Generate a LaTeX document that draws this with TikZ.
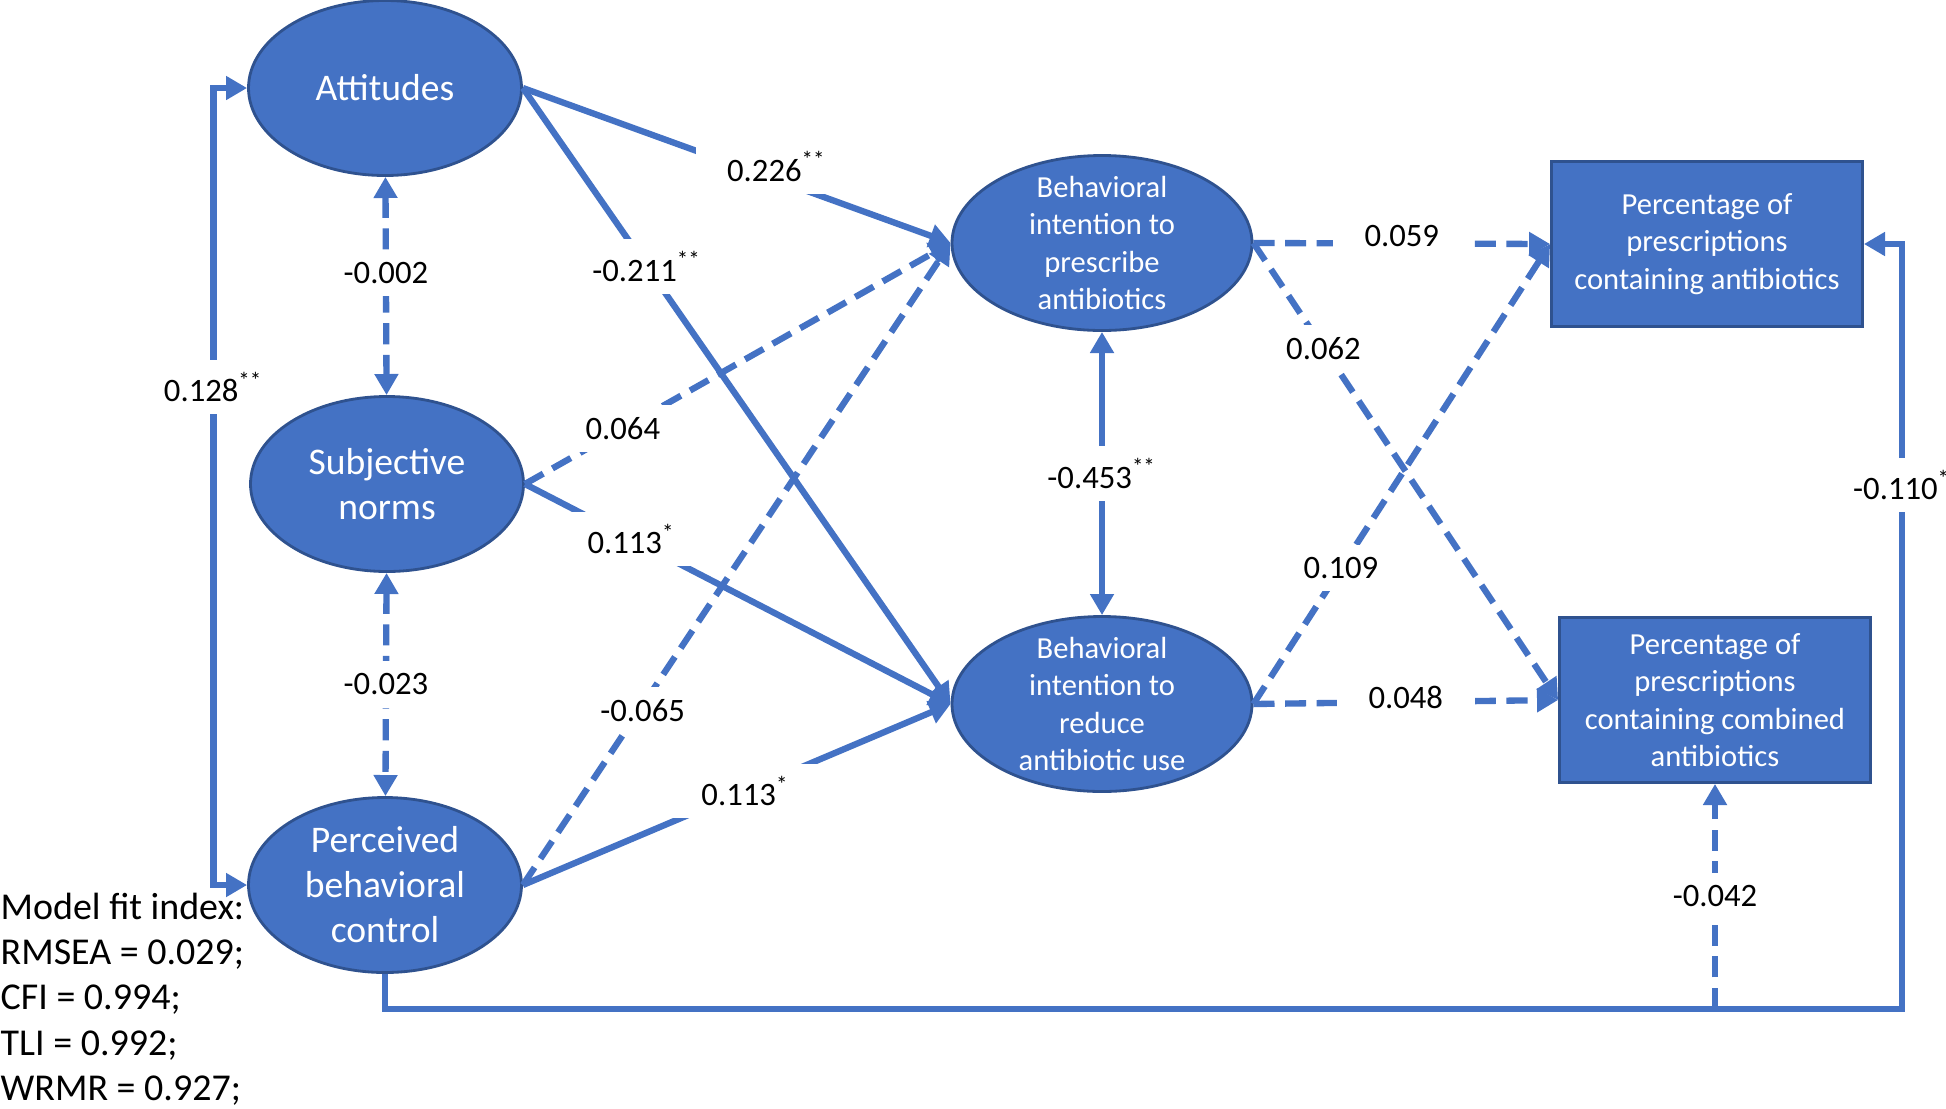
\documentclass[tikz,border=0pt]{standalone}
\usepackage{fontspec}
\setmainfont{Carlito}
\usepackage{tikz}
\usetikzlibrary{arrows.meta,shapes.geometric,calc}

\definecolor{semblue}{RGB}{68,114,196}
\definecolor{semedge}{RGB}{47,82,143}

\begin{document}
\begin{tikzpicture}[
    >={Triangle[length=6pt,width=6.5pt]},
    construct/.style={ellipse, draw=semedge, line width=0.8pt, fill=semblue, text=white, align=center, inner sep=-5pt, minimum width=2.73cm, minimum height=1.75cm, font=\fontsize{10.7}{12.8}\selectfont},
    intention/.style={construct, minimum width=3.0cm, font=\fontsize{8.7}{10.6}\selectfont},
    outcome/.style={rectangle, draw=semedge, line width=0.8pt, fill=semblue, text=white, align=center, minimum width=3.11cm, minimum height=1.65cm, font=\fontsize{8.7}{10.6}\selectfont},
    sig/.style={draw=semblue, line width=1.8pt},
    nonsig/.style={sig, dash pattern=on 6pt off 3pt},
    coef/.style={fill=white, inner xsep=9pt, inner ysep=3.5pt, font=\fontsize{9.3}{11}\selectfont}
]
    \useasboundingbox (0,0) rectangle (19.46,-11.08);

    % Predictors
    \node[construct] (att) at (3.85,-0.88) {Attitudes};
    \node[construct] (sn) at (3.87,-4.84) {Subjective\\norms};
    \node[construct] (pbc) at (3.85,-8.85) {Perceived\\behavioral\\control};

    % Intentions
    \node[intention] (bip) at (11.02,-2.43) {Behavioral\\intention to\\prescribe\\antibiotics};
    \node[intention] (bir) at (11.02,-7.04) {Behavioral\\intention to\\reduce\\antibiotic use};

    % Prescribing outcomes
    \node[outcome] (pct) at (17.07,-2.44) {Percentage of\\prescriptions\\containing antibiotics};
    \node[outcome] (pcc) at (17.15,-7.00) {Percentage of\\prescriptions\\containing combined\\antibiotics};

    % Corners of the elbow paths
    \coordinate (lft) at (2.135,0);
    \coordinate (rgt) at (19.02,0);
    \coordinate (bot) at (0,-10.09);

    % Correlations
    \draw[sig, <->] (att.west) -- (att.west -| lft) -- node[coef, pos=0.375]{0.128\textsuperscript{**}} (pbc.west -| lft) -- (pbc.west);
    \draw[nonsig, <->] (att) -- node[coef, pos=0.44]{-0.002} (sn);
    \draw[nonsig, <->] (sn) -- node[coef]{-0.023} (pbc);
    \draw[sig, <->] (bip) -- node[coef]{-0.453\textsuperscript{**}} (bir);

    % Paths to the intentions
    \draw[sig, ->] (att.east) -- node[coef, pos=0.57, xshift=0.1cm, yshift=0.1cm]{0.226\textsuperscript{**}} (bip.west);
    \draw[sig, ->] (att.east) -- node[coef, pos=0.29]{-0.211\textsuperscript{**}} (bir.west);
    \draw[nonsig, ->] (sn.east) -- node[coef, pos=0.23]{0.064} (bip.west);
    \draw[sig, ->] (sn.east) -- node[coef, pos=0.25]{0.113\textsuperscript{*}} (bir.west);
    \draw[nonsig, ->] (pbc.east) -- node[coef, pos=0.28, yshift=-0.05cm]{-0.065} (bip.west);
    \draw[sig, ->] (pbc.east) -- node[coef, pos=0.52]{0.113\textsuperscript{*}} (bir.west);

    % Paths to the prescribing outcomes
    \draw[nonsig, ->] (bip.east) -- node[coef, yshift=0.07cm]{0.059} (pct.west);
    \draw[nonsig, ->] (bip.east) -- node[coef, pos=0.23]{0.062} (pcc.west);
    \draw[nonsig, ->] (bir.east) -- node[coef, pos=0.295]{0.109} (pct.west);
    \draw[nonsig, ->] (bir.east) -- node[coef, yshift=0.05cm]{0.048} (pcc.west);

    % Direct paths from perceived behavioral control
    \draw[sig, ->] (pbc.south) -- (pbc.south |- bot) -- (rgt |- bot) -- node[coef, pos=0.685]{-0.110\textsuperscript{*}} (rgt |- pct.east) -- (pct.east);
    \draw[nonsig, ->] (pcc.south |- bot) -- node[coef]{-0.042} (pcc.south);

    % Fit indices
    \node[anchor=west, align=left, inner sep=0pt, font=\fontsize{10.8}{12.9}\selectfont] (fit) at (0,-9.99) {Model fit index:\\RMSEA = 0.029;\\CFI = 0.994;\\TLI = 0.992;\\WRMR = 0.927;};
\end{tikzpicture}
\end{document}
